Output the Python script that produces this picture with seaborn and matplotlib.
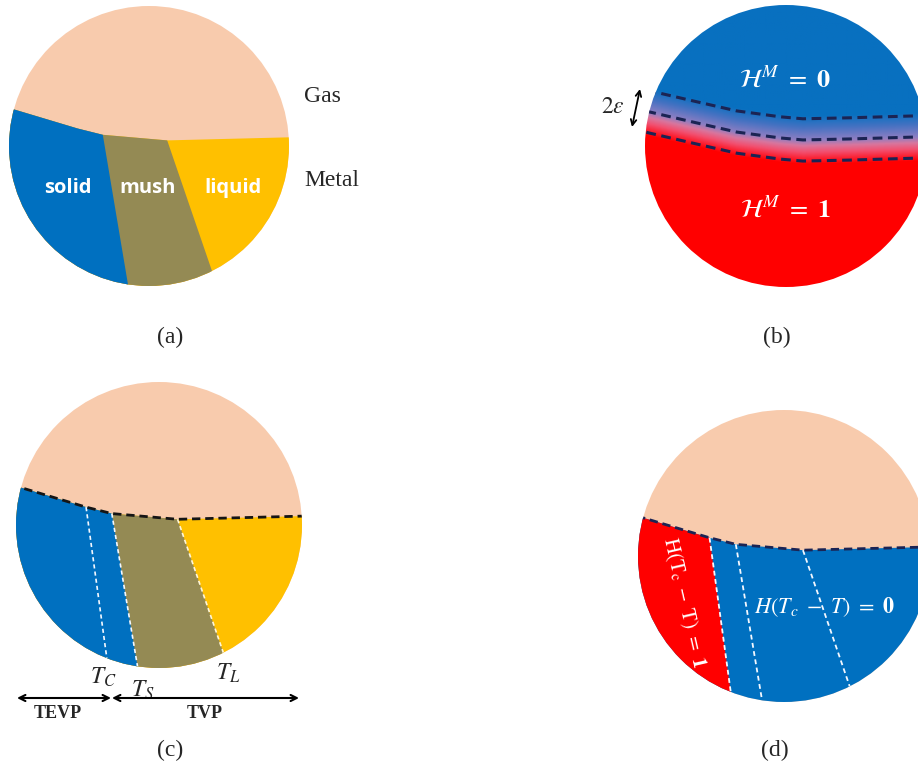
import numpy as np
import matplotlib
matplotlib.use("Agg")
import matplotlib.pyplot as plt
import seaborn as sns
from matplotlib.patches import Circle
from matplotlib.colors import LinearSegmentedColormap

# ---------------- data (unit-circle coordinates, y up) ----------------
# gas / metal interface (polyline across the melt pool)
interface_x = [-0.96, -0.51, -0.33, 0.13, 1.00]
interface_y = [0.26, 0.125, 0.08, 0.04, 0.062]
# isotherm lines: top point lies on the interface, bottom on the circle
critical_top = (-0.51, 0.125)    # T_C
critical_bot = (-0.365, -0.93)
solidus_top = (-0.33, 0.08)      # T_S
solidus_bot = (-0.15, -0.99)
liquidus_top = (0.13, 0.04)      # T_L
liquidus_bot = (0.45, -0.893)
# smooth diffuse interface of panel (b) and its half-width
diffuse_x = [-0.965, -0.66, -0.35, -0.04, 0.12, 0.45, 0.93]
diffuse_y = [0.241, 0.170, 0.099, 0.057, 0.043, 0.050, 0.064]
diffuse_eps = 0.15

phase_labels = ["solid", "mush", "liquid"]
phase_colors = ["#0070C0", "#948A54", "#FFC000"]
gas_color = "#F8CBAD"
red_color = "#FF0000"
panel_labels = ["(a)", "(b)", "(c)", "(d)"]

# ---------------- setup ----------------
sns.set_theme(style="white")
plt.rcParams["mathtext.fontset"] = "stix"
plt.rcParams["lines.scale_dashes"] = False
plt.rcParams["font.family"] = ["DejaVu Sans"]

W, H = 918, 769
fig = plt.figure(figsize=(W / 100, H / 100), dpi=100)
ax = fig.add_axes([0, 0, 1, 1])
ax.set_xlim(0, W)
ax.set_ylim(H, 0)
ax.set_autoscale_on(False)
ax.axis("off")

PANELS = {"a": (149, 146, 140), "b": (786, 146, 141), "c": (159, 525, 143), "d": (784, 556, 146)}


def to_px(panel, pts):
    cx, cy, r = PANELS[panel]
    pts = np.asarray(pts, dtype=float)
    return np.column_stack([cx + r * pts[:, 0], cy - r * pts[:, 1]])


def extend(p0, p1, length=0.5):
    p0 = np.asarray(p0, float); p1 = np.asarray(p1, float)
    d = p1 - p0
    return tuple(p1 + d / np.hypot(*d) * length)


def circle(panel, **kw):
    cx, cy, r = PANELS[panel]
    c = Circle((cx, cy), r, transform=ax.transData, **kw)
    return c


iface = list(zip(interface_x, interface_y))
left_ext = extend(iface[1], iface[0])
right_ext = extend(iface[-2], iface[-1])
crit_ext = extend(critical_top, critical_bot)
sol_ext = extend(solidus_top, solidus_bot)
liq_ext = extend(liquidus_top, liquidus_bot)
BL, BR = (-1.5, -1.5), (1.5, -1.5)


def fill(panel, pts, color, clip):
    p = to_px(panel, pts)
    poly = ax.fill(p[:, 0], p[:, 1], color=color, lw=0, zorder=2)[0]
    poly.set_clip_path(clip)


def dashed(panel, pts, color, lw, dash, clip, z=4):
    p = to_px(panel, pts)
    n = len(ax.lines)
    sns.lineplot(x=p[:, 0], y=p[:, 1], sort=False, estimator=None, color=color,
                 linewidth=lw, ax=ax, legend=False)
    for ln in ax.lines[n:]:
        ln.set_dashes(dash)
        ln.set_clip_path(clip)
        ln.set_zorder(z)
        ln.set_dash_capstyle("butt")


metal_poly = [left_ext] + iface + [right_ext, BR, BL]
upto_K2 = [left_ext] + iface[:4]


def phase_pool(panel):
    gas = circle(panel, facecolor=gas_color, edgecolor="none", zorder=1)
    ax.add_patch(gas)
    clip = circle(panel)
    fill(panel, metal_poly, phase_colors[2], clip)
    fill(panel, upto_K2 + [liq_ext, BL], phase_colors[1], clip)
    fill(panel, upto_K2[:4] + [sol_ext, BL], phase_colors[0], clip)
    return clip


# ---------------- panel (a) ----------------
clip_a = phase_pool("a")
label_pos = to_px("a", [(-0.58, -0.30), (-0.01, -0.30), (0.60, -0.30)])
for lab, (x, y) in zip(phase_labels, label_pos):
    ax.text(x, y, lab, color="white", fontsize=14.5, fontweight="bold",
            family="Open Sans", ha="center", va="center", zorder=5)
ax.text(322, 97, "Gas", fontsize=17, family="Liberation Serif", ha="center", va="center")
ax.text(332, 180, "Metal", fontsize=17, family="Liberation Serif", ha="center", va="center")

# ---------------- panel (b) ----------------
cb = PANELS["b"]
clip_b = circle("b")
xs = np.linspace(cb[0] - cb[2] - 2, cb[0] + cb[2] + 2, 300)
ys = np.linspace(cb[1] - cb[2] - 2, cb[1] + cb[2] + 2, 300)
XX, YY = np.meshgrid(xs, ys)
NX = (XX - cb[0]) / cb[2]
NY = -(YY - cb[1]) / cb[2]
dx_ext = [-1.2] + diffuse_x + [1.2]
dy_ext = [diffuse_y[0] + 0.06] + diffuse_y + [diffuse_y[-1] + 0.005]
iy = np.interp(NX, dx_ext, dy_ext)
t = np.clip(((iy - NY) / (diffuse_eps * 1.15) + 1) / 2, 0, 1)
cmap = LinearSegmentedColormap.from_list(
    "hm", [(0, "#0870C0"), (0.25, "#4672C2"), (0.5, "#8C7EC2"), (0.62, "#D8769E"),
           (0.75, "#F25070"), (0.9, "#FC1C2C"), (1, "#FF0000")])
img = ax.imshow(cmap(t), extent=(xs[0], xs[-1], ys[-1], ys[0]), origin="upper",
                interpolation="bilinear", zorder=1, aspect="auto")
img.set_clip_path(clip_b)
dpts = list(zip(dx_ext, dy_ext))
for off in (diffuse_eps, 0.0, -diffuse_eps):
    pts = [(x, y + off) for x, y in dpts]
    dashed("b", pts, "#1B2454", 2.2, (7, 4), clip_b)
ax.text(785, 80, r"$\mathcal{H}^{M}\ =\ \mathbf{0}$", color="white", fontsize=19,
        ha="center", va="center", zorder=5)
ax.text(785, 210, r"$\mathcal{H}^{M}\ =\ \mathbf{1}$", color="white", fontsize=19,
        ha="center", va="center", zorder=5)
ax.text(613, 106, r"$2\varepsilon$", fontsize=17, ha="center", va="center")
ax.annotate("", xy=(640, 89), xytext=(632, 127),
            arrowprops=dict(arrowstyle="<->", lw=1.3, color="black", mutation_scale=10,
                            shrinkA=0, shrinkB=0))

# ---------------- panel (c) ----------------
clip_c = phase_pool("c")
dashed("c", [left_ext] + iface + [right_ext], "#151515", 2.0, (6, 3.5), clip_c, z=5)
for top, bot, col in [(critical_top, critical_bot, "#F4F8FF"),
                      (solidus_top, solidus_bot, "#F4F8FF"),
                      (liquidus_top, liquidus_bot, "#FFF6D8")]:
    dashed("c", [top, bot], col, 1.2, (3, 2.2), clip_c)
for txt, (x, y) in zip([r"$T_C$", r"$T_S$", r"$T_L$"], [(103, 677), (143, 690), (228, 673)]):
    ax.text(x, y, txt, fontsize=17, ha="center", va="center")
ax.annotate("", xy=(111, 698), xytext=(17, 698),
            arrowprops=dict(arrowstyle="<->", lw=1.5, color="black", mutation_scale=11,
                            shrinkA=0, shrinkB=0))
ax.annotate("", xy=(299, 698), xytext=(112, 698),
            arrowprops=dict(arrowstyle="<->", lw=1.5, color="black", mutation_scale=11,
                            shrinkA=0, shrinkB=0))
ax.text(58, 713, "TEVP", fontsize=13, fontweight="bold", family="Liberation Serif",
        ha="center", va="center")
ax.text(205, 713, "TVP", fontsize=13, fontweight="bold", family="Liberation Serif",
        ha="center", va="center")

# ---------------- panel (d) ----------------
gas_d = circle("d", facecolor=gas_color, edgecolor="none", zorder=1)
ax.add_patch(gas_d)
clip_d = circle("d")
fill("d", metal_poly, phase_colors[0], clip_d)
fill("d", [left_ext] + iface[:2] + [crit_ext, BL], red_color, clip_d)
dashed("d", [left_ext] + iface + [right_ext], "#1B2454", 2.0, (6, 3.5), clip_d, z=5)
for top, bot in [(critical_top, critical_bot), (solidus_top, solidus_bot),
                 (liquidus_top, liquidus_bot)]:
    dashed("d", [top, bot], "#F4F8FF", 1.3, (3.5, 2.5), clip_d)
ax.text(684, 603, r"$\mathrm{H}(\mathrm{T}_\mathrm{c}\ -\ \mathrm{T})\ =\ \mathbf{1}$",
        color="white", fontsize=15, rotation=-77, ha="center", va="center",
        rotation_mode="anchor", zorder=6)
ax.text(824, 607, r"$H(T_c\ -\ T)\ =\ \mathbf{0}$", color="white", fontsize=16,
        ha="center", va="center", zorder=6)

# ---------------- panel labels ----------------
for lab, (x, y) in zip(panel_labels, [(170, 337), (777, 337), (170, 750), (775, 750)]):
    ax.text(x, y, lab, fontsize=17, family="Liberation Serif", ha="center", va="center")

fig.savefig("out.png", dpi=100)
